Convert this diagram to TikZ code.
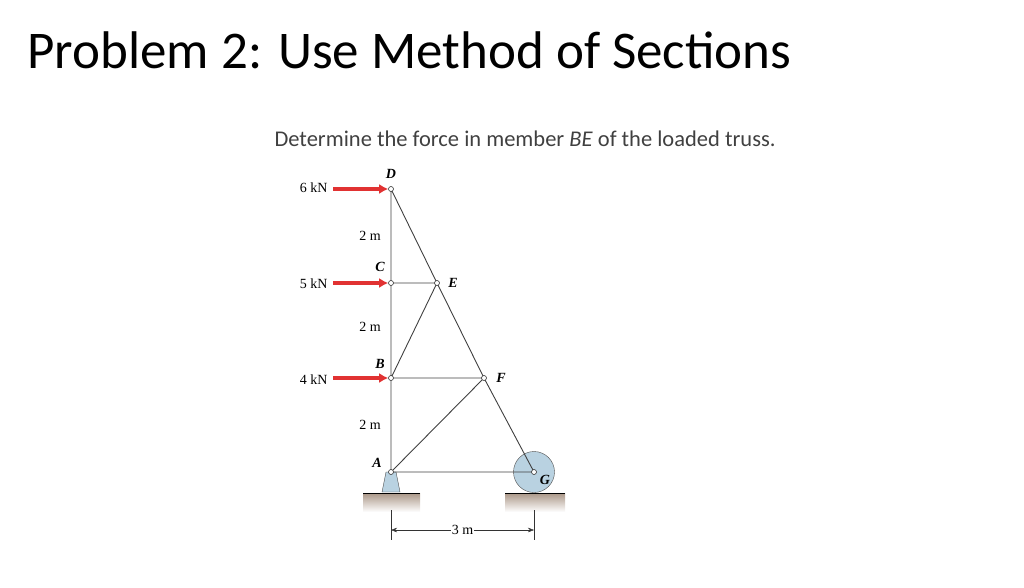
\documentclass[tikz,border=0pt]{standalone}
\usepackage{fontspec}
\setmainfont{Carlito}
\newfontfamily\trussfont{Liberation Serif}
\usetikzlibrary{positioning,calc,arrows.meta}
\definecolor{loadred}{RGB}{225, 50, 50}
\definecolor{supportblue}{RGB}{185, 210, 225}
\definecolor{groundtan}{RGB}{170, 150, 135}
\begin{document}
\begin{tikzpicture}[x=1pt,y=-1pt,
    member/.style={draw=black!75, line width=0.9pt},
    joint/.style={circle, draw=black!80, fill=white, inner sep=0pt, minimum size=5pt, line width=0.6pt},
    load/.style={draw=loadred, line width=3.5pt, -{Latex[length=9pt,width=10pt]}},
    lbl/.style={font=\trussfont\bfseries\itshape\fontsize{14}{16}\selectfont},
    dim/.style={font=\trussfont\fontsize{14}{16}\selectfont}]
    \useasboundingbox (0,0) rectangle (1024,588);

    % Titles
    \node[anchor=west, font=\fontsize{53}{58}\selectfont] at (24,50) {Problem 2: Use Method of Sections};
    \node[anchor=west, font=\fontsize{22.5}{25}\selectfont, text=black!75] at (271,139) {Determine the force in member \textit{BE} of the loaded truss.};

    % Ground
    \shade[top color=groundtan, bottom color=white] (363,493) rectangle (420,512);
    \draw[line width=1pt] (363,493) -- (420,493);
    \shade[top color=groundtan, bottom color=white] (505,493) rectangle (565,512);
    \draw[line width=1pt] (505,493) -- (565,493);

    % Supports
    \filldraw[fill=supportblue, draw=black!70] (382,492) -- (386,472) -- (396,472) -- (400,492) -- cycle;
    \filldraw[fill=supportblue, draw=black!70] (534,472) circle (20.5);

    % Joints
    \coordinate (A) at (391,472);
    \coordinate (B) at (391,378);
    \coordinate (C) at (391,283);
    \coordinate (D) at (391,189);
    \coordinate (E) at (437,283);
    \coordinate (F) at (484,378);
    \coordinate (G) at (534,472);

    % Members
    \draw[member] (A) -- (D) -- (E) -- (F) -- (G) -- (A) -- (F) -- (B) -- (E) -- (C);

    \foreach \j in {A,B,C,D,E,F,G}
        \node[joint] (j\j) at (\j) {};

    % Joint labels
    \node[lbl] (nD) at (391,174) {D};
    \node[lbl] (nC) at (380,267) {C};
    \node[lbl] (nE) at (453,283) {E};
    \node[lbl] (nB) at (380,364) {B};
    \node[lbl] (nF) at (501,378) {F};
    \node[lbl] (nA) at (377,463) {A};
    \node[lbl] (nG) at (545,480) {G};

    % Loads
    \node[dim, anchor=east] (l6) at (331,188) {6 kN};
    \node[dim, anchor=east] (l5) at (331,284) {5 kN};
    \node[dim, anchor=east] (l4) at (331,380) {4 kN};
    \draw[load] (333,189) -- (jD.west);
    \draw[load] (333,283) -- (jC.west);
    \draw[load] (333,378) -- (jB.west);

    % Spacings
    \node[dim] (h1) at (370,236) {2 m};
    \node[dim] (h2) at (370,327) {2 m};
    \node[dim] (h3) at (370,425) {2 m};

    % Dimension
    \coordinate (dl) at (391,530);
    \coordinate (dr) at (534,530);
    \draw[black!80] (391,510) -- (391,540) (534,510) -- (534,540);
    \node[dim, fill=white, inner sep=1pt] (dm) at ($(dl)!0.5!(dr)$) {3 m};
    \draw[black!80, -{Stealth[length=6pt]}] (dm.west) -- (dl);
    \draw[black!80, -{Stealth[length=6pt]}] (dm.east) -- (dr);
\end{tikzpicture}
\end{document}
